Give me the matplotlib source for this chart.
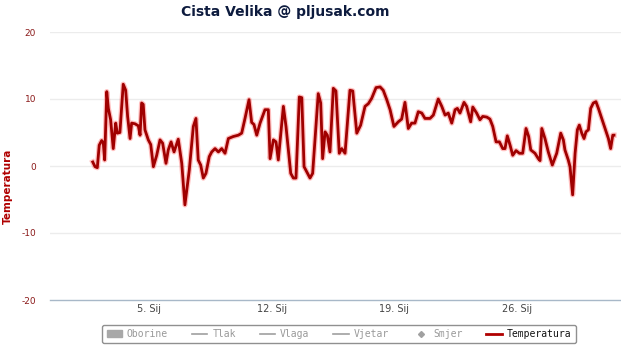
import matplotlib
matplotlib.use('Agg')
import matplotlib.pyplot as plt
from matplotlib.lines import Line2D
from matplotlib.patches import Patch

# Podaci (dan u mjesecu, temperatura u °C) - procijenjeno sa slike
dani = [1.79, 1.92, 2.05, 2.16, 2.30, 2.39, 2.47, 2.59, 2.68, 2.81, 2.96, 3.10,
        3.19, 3.34, 3.44, 3.53, 3.67, 3.78, 3.92, 4.01, 4.20, 4.39, 4.49, 4.58,
        4.67, 4.77, 4.96, 5.10, 5.25, 5.44, 5.63, 5.78, 5.97, 6.10, 6.26, 6.43,
        6.67, 6.87, 7.05, 7.30, 7.53, 7.68, 7.81, 7.95, 8.10, 8.25, 8.44, 8.58,
        8.77, 8.96, 9.15, 9.34, 9.53, 9.81, 10.10, 10.29, 10.48, 10.71, 10.86,
        10.99, 11.15, 11.34, 11.62, 11.81, 11.91, 12.10, 12.25, 12.38, 12.67,
        12.82, 12.95, 13.09, 13.24, 13.39, 13.58, 13.72, 13.85, 14.00, 14.19,
        14.34, 14.66, 14.80, 14.91, 15.05, 15.18, 15.33, 15.52, 15.67, 15.86,
        16.00, 16.19, 16.47, 16.63, 16.86, 17.08, 17.33, 17.52, 17.71, 17.96,
        18.19, 18.37, 18.57, 18.76, 18.98, 19.23, 19.42, 19.61, 19.80, 19.99,
        20.18, 20.37, 20.57, 20.75, 21.04, 21.23, 21.51, 21.71, 21.90, 22.08,
        22.28, 22.47, 22.60, 22.75, 22.98, 23.13, 23.36, 23.48, 23.70, 23.89,
        24.05, 24.28, 24.46, 24.62, 24.81, 25.00, 25.19, 25.32, 25.45, 25.61,
        25.76, 25.95, 26.14, 26.33, 26.52, 26.67, 26.79, 27.03, 27.22, 27.32,
        27.42, 27.60, 27.79, 28.02, 28.27, 28.50, 28.65, 28.74, 28.93, 29.03,
        29.18, 29.32, 29.45, 29.56, 29.70, 29.83, 29.94, 30.08, 30.21, 30.36,
        30.51, 30.65, 30.84, 31.03, 31.22, 31.35, 31.47, 31.54]
temperatura = [0.6, -0.1, -0.25, 3.1, 3.8, 3.5, 0.9, 11.1, 8.6, 6.9, 2.6, 6.4,
               4.9, 5.0, 8.9, 12.2, 11.3, 7.4, 4.1, 6.4, 6.3, 6.0, 4.6, 9.4,
               9.2, 5.4, 3.9, 3.2, -0.1, 1.6, 3.9, 3.4, 0.4, 2.4, 3.6, 2.1,
               4.0, 0.4, -5.8, -0.6, 5.9, 7.1, 0.9, 0.15, -1.8, -1.1, 1.4, 2.1,
               2.6, 2.1, 2.6, 1.9, 4.1, 4.4, 4.6, 4.9, 7.1, 9.9, 6.5,
               6.2, 4.6, 6.4, 8.4, 8.4, 1.1, 3.9, 3.6, 0.9, 8.9,
               5.9, 2.6, -1.1, -1.8, -1.8, 10.3, 10.2, -0.1, -0.85, -1.8,
               -1.1, 10.8, 9.4, 1.1, 5.1, 4.6, 2.1, 11.6, 11.2, 1.9,
               2.6, 1.9, 11.3, 11.2, 4.9, 6.1, 8.9, 9.3, 10.1, 11.7,
               11.8, 11.3, 9.9, 8.4, 5.9, 6.6, 7.0, 9.5, 5.6, 6.4,
               6.4, 8.1, 7.9, 7.1, 7.1, 7.6, 10.0, 8.9, 7.6, 7.9,
               6.4, 8.4, 8.6, 7.9, 9.5, 8.9, 6.6, 8.8, 7.9, 6.9,
               7.4, 7.3, 7.0, 5.9, 3.6, 3.6, 2.6, 2.6, 4.5, 3.1,
               1.6, 2.3, 1.9, 1.9, 5.6, 4.4, 2.4, 1.9, 1.1, 0.8,
               5.6, 4.1, 2.1, 0.15, 1.9, 4.9, 3.9, 2.4, 0.9, -0.1,
               -4.3, 1.9, 5.4, 6.1, 4.9, 4.1, 5.1, 5.4, 8.6, 9.4,
               9.6, 8.6, 7.1, 5.6, 4.1, 2.6, 4.6, 4.6]

x_tickovi = [5, 12, 19, 26]
x_oznake = ['5. Sij', '12. Sij', '19. Sij', '26. Sij']
y_tickovi = [-20, -10, 0, 10, 20]

legenda = ['Oborine', 'Tlak', 'Vlaga', 'Vjetar', 'Smjer', 'Temperatura']

# ******************************************************************************
fig = plt.figure(figsize=(6.21, 3.52), dpi=100)
ax = fig.add_axes([50/621, 52/352, 571/621, 268/352])

# crvena linija s blagim sjajem
ax.plot(dani, temperatura, color='#ff2a2a', lw=3.8, alpha=0.3,
        solid_joinstyle='round', zorder=3)
ax.plot(dani, temperatura, color='#a00000', lw=2.0,
        solid_joinstyle='round', zorder=4)

ax.set_xlim(-0.65, 31.94)
ax.set_ylim(-20, 20)
ax.set_xticks(x_tickovi)
ax.set_xticklabels(x_oznake, color='#444444', fontsize=7)
ax.set_yticks(y_tickovi)
ax.set_yticklabels([str(v) for v in y_tickovi], color='#8b1a1a', fontsize=6.5)
ax.tick_params(axis='both', length=0)
ax.tick_params(axis='y', pad=10)
ax.tick_params(axis='x', pad=3)

for v in y_tickovi[1:]:
  ax.axhline(v, color='#ececec', lw=1, zorder=1)
for s in ['top', 'right', 'left']:
  ax.spines[s].set_visible(False)
ax.spines['bottom'].set_color('#a8b8c8')
ax.spines['bottom'].set_linewidth(1)

fig.text(8/621, 166/352, 'Temperatura', rotation=90, color='#b00000',
         fontsize=7.5, fontweight='bold', ha='center', va='center')
fig.text(285/621, 1 - 12/352, 'Cista Velika @ pljusak.com', color='#0d1b3e',
         fontsize=10, fontweight='bold', ha='center', va='center')

# legenda
siva = '#a0a0a0'
rucke = [Patch(facecolor='#a8a8a8', edgecolor='#a8a8a8'),
         Line2D([], [], color=siva, lw=1.2),
         Line2D([], [], color=siva, lw=1.2),
         Line2D([], [], color=siva, lw=1.2),
         Line2D([], [], color=siva, marker='D', ms=3, lw=0),
         Line2D([], [], color='#b00000', lw=2)]
leg = fig.legend(rucke, legenda, loc='center', ncol=6,
                 bbox_to_anchor=(339/621, 1 - 334/352),
                 prop={'family': 'DejaVu Sans Mono', 'size': 7},
                 handlelength=1.6, handletextpad=0.5, columnspacing=2.45,
                 fancybox=True, framealpha=1, edgecolor='#909090',
                 borderpad=0.45)
leg.get_frame().set_linewidth(1)
for i, t in enumerate(leg.get_texts()):
  t.set_color('#999999' if i < 5 else '#111111')

fig.savefig('out.png', dpi=100)
